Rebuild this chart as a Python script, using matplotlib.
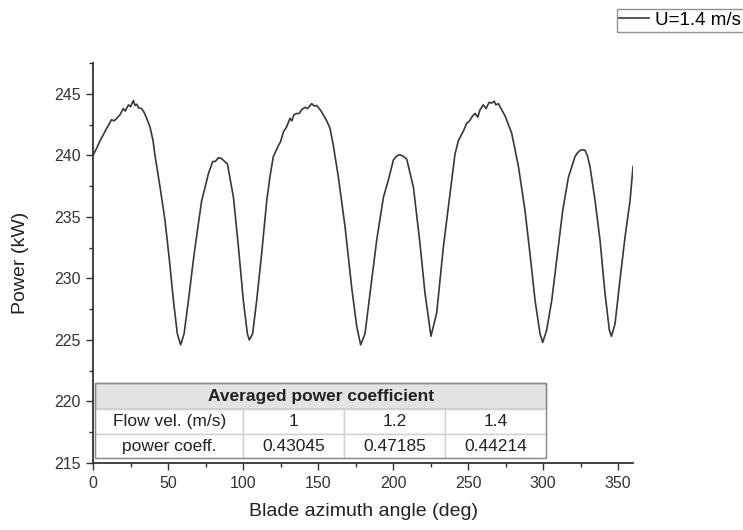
import matplotlib.pyplot as plt
from matplotlib.ticker import MultipleLocator

plt.rcParams['font.family'] = ['Liberation Sans', 'DejaVu Sans']

angle = [0, 2.5, 4.7, 7, 9.1, 11, 12.4, 14, 15.8, 18, 20.2, 21.5, 23.6, 25, 26.9, 28, 29.1, 30.5,
         32.4, 34, 35.8, 38, 40, 41.3, 44.7, 48, 50.9, 53.6, 56.2, 58.4, 60.7, 63.6, 66.9, 69.6,
         72.4, 74.7, 76.9, 79.8, 81.5, 83.6, 85.5, 86.9, 89.6, 93.6, 96.9, 100.2, 102.9, 104.2,
         106.4, 109.1, 112.4, 115.8, 118, 120.2, 123.6, 125, 126.9, 129, 131.3, 132.5, 134, 135.8,
         137.5, 139, 141.3, 143, 145.8, 147.5, 149, 150.2, 152, 155.8, 158, 160.2, 163.6, 168,
         172.4, 175.8, 178.4, 181.3, 184.7, 189.1, 193.6, 196.9, 200.2, 202, 204.2, 206.5, 209.1,
         213.6, 218, 221.3, 225.3, 229.1, 233.6, 238, 241.3, 243.6, 247, 249.1, 251, 253, 254.7,
         256.5, 258, 260.2, 262, 264, 265.8, 267.5, 268.5, 270.2, 272, 274.7, 279.1, 283.6, 288,
         291.3, 294.7, 298, 299.8, 302.4, 305.8, 309.1, 313.1, 316.9, 319, 321.3, 323, 324.7,
         326.5, 328, 329.5, 331.3, 334.7, 338, 341.3, 344.2, 345.6, 348, 351.3, 354.7, 358, 360]
power = [240.0, 240.6, 241.2, 241.7, 242.2, 242.6, 242.9, 242.8, 243.0, 243.3, 243.8, 243.6, 244.1,
         243.95, 244.45, 244.05, 244.15, 243.85, 243.8, 243.5, 243.0, 242.3, 241.2, 240.0, 237.4,
         234.7, 231.5, 228.2, 225.5, 224.6, 225.5, 228.2, 231.5, 233.9, 236.3, 237.4, 238.5, 239.5,
         239.5, 239.8, 239.75, 239.6, 239.3, 236.6, 232.6, 228.2, 225.5, 225.0, 225.5, 228.2, 232.0,
         236.3, 238.3, 239.9, 240.8, 241.1, 241.9, 242.3, 243.0, 242.8, 243.3, 243.4, 243.4, 243.7,
         243.9, 243.8, 244.2, 244.0, 244.05, 243.9, 243.6, 242.8, 242.2, 240.8, 238.2, 234.2, 229.3,
         226.1, 224.6, 225.5, 228.8, 233.1, 236.6, 238.0, 239.6, 239.9, 240.05, 239.95, 239.7, 237.4,
         232.8, 228.8, 225.3, 227.2, 232.6, 236.9, 240.1, 241.2, 242.0, 242.6, 242.8, 243.2, 243.4,
         243.1, 243.7, 244.1, 243.8, 244.3, 244.25, 244.4, 244.1, 244.2, 243.8, 243.2, 241.8, 239.1,
         235.5, 232.0, 228.2, 225.5, 224.8, 225.8, 228.2, 231.5, 235.5, 238.2, 239.0, 239.9, 240.2,
         240.4, 240.45, 240.4, 240.0, 239.1, 236.3, 233.1, 228.8, 225.8, 225.3, 226.3, 229.9, 233.4,
         236.3, 239.1]

# averaged power coefficient table
tbl_title = 'Averaged power coefficient'
flow_vel = ['1', '1.2', '1.4']
power_coeff = ['0.43045', '0.47185', '0.44214']

fig = plt.figure(figsize=(7.43, 5.30), dpi=100)
ax = fig.add_axes([0.1252, 0.1264, 0.7268, 0.7547])

ax.plot(angle, power, color='#383838', lw=1.2, label='U=1.4 m/s')

ax.set_xlim(0, 360)
ax.set_ylim(215, 247.5)
ax.xaxis.set_major_locator(MultipleLocator(50))
ax.xaxis.set_minor_locator(MultipleLocator(25))
ax.yaxis.set_major_locator(MultipleLocator(5))
ax.yaxis.set_minor_locator(MultipleLocator(2.5))
ax.tick_params(which='major', direction='out', length=5, width=1, colors='#333333',
               labelsize=11.5, pad=4)
ax.tick_params(which='minor', direction='out', length=3, width=1, colors='#333333')
for s in ['top', 'right']:
    ax.spines[s].set_visible(False)
for s in ['left', 'bottom']:
    ax.spines[s].set_color('#333333')
    ax.spines[s].set_linewidth(1.3)

ax.set_xlabel('Blade azimuth angle (deg)', fontsize=14, color='#222222', labelpad=9)
ax.set_ylabel('Power (kW)', fontsize=14, color='#222222', labelpad=18)

# table: one cell for the title, then the body
head = ax.table(cellText=[[tbl_title]], cellLoc='center', bbox=[0.004, 0.134, 0.835, 0.066])
head.auto_set_font_size(False)
hc = head[0, 0]
hc.set_facecolor('#e3e3e3')
hc.set_edgecolor('#8a8a8a')
hc.get_text().set_fontweight('bold')
hc.get_text().set_fontsize(12.5)
hc.get_text().set_color('#222222')

body = ax.table(cellText=[['Flow vel. (m/s)'] + flow_vel, ['power coeff.'] + power_coeff],
                cellLoc='center', colWidths=[148, 101, 101, 101],
                bbox=[0.004, 0.012, 0.835, 0.122])
body.auto_set_font_size(False)
for (r, c), cell in body.get_celld().items():
    cell.set_edgecolor('#d0d0d0')
    cell.set_facecolor('white')
    cell.get_text().set_fontsize(12.5)
    cell.get_text().set_color('#222222')
ax.add_patch(plt.Rectangle((0.004, 0.012), 0.835, 0.188, transform=ax.transAxes,
                           fill=False, edgecolor='#8a8a8a', lw=1.0, zorder=5))

fig.legend(loc='upper right', bbox_to_anchor=(1.001, 0.983), fontsize=13.5, frameon=True,
           fancybox=False, edgecolor='#777777', handlelength=1.6, handletextpad=0.3,
           borderpad=0.15, borderaxespad=0)

fig.savefig('out.png', dpi=100)
